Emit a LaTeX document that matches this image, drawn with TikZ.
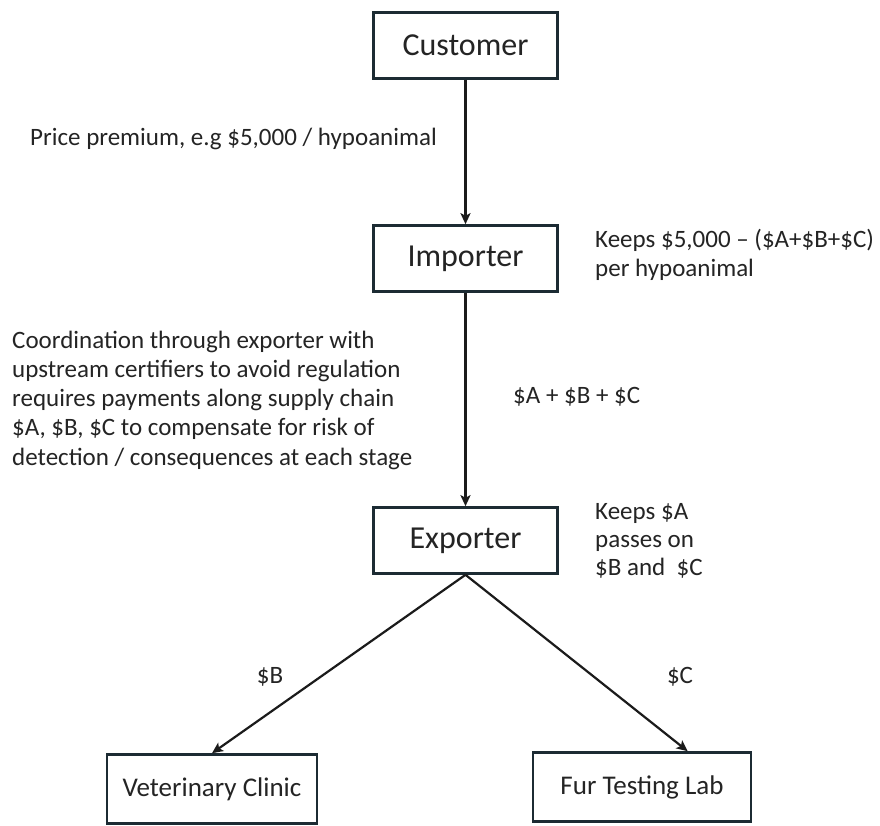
\documentclass[tikz,border=0pt]{standalone}
\usepackage{fontspec}
\setmainfont{Carlito}
\usetikzlibrary{arrows.meta,calc}

\definecolor{inkline}{HTML}{1B1B1B}
\definecolor{inktext}{HTML}{242424}
\definecolor{boxedge}{HTML}{1C2B33}

\tikzset{
  stagebox/.style={draw=boxedge, line width=2.6pt, fill=white, text=inktext,
    minimum width=184pt, minimum height=66pt, inner sep=0pt,
    font=\fontsize{32}{37}\selectfont},
  endbox/.style={stagebox, minimum height=69pt, font=\fontsize{27}{32}\selectfont},
  flow/.style={draw=inkline, line width=2.2pt,
    -{Stealth[length=11pt,width=10pt,inset=2.5pt]}},
  note/.style={text=inktext, inner sep=0pt, font=\fontsize{25}{29.5}\selectfont},
  notepara/.style={note, align=left, anchor=north west}
}

\begin{document}
\begin{tikzpicture}[x=1pt,y=-1pt]
  \useasboundingbox (0,0) rectangle (880,826);
  \fill[white] (0,0) rectangle (880,826);

  % supply chain stages
  \node[stagebox] (customer) at (465.5,45.5) {Customer};
  \node[stagebox] (importer) at (465.5,258.5) {Importer};
  \node[stagebox] (exporter) at (465.5,540.5) {Exporter};
  \node[endbox, minimum width=210pt] (vet) at (212,789) {Veterinary Clinic};
  \node[endbox, minimum width=218pt] (fur) at (642,787) {Fur Testing Lab};

  % payment flows
  \coordinate (furin) at ($(fur.north west)!0.707!(fur.north east)$);
  \draw[flow] (customer.south) -- (importer.north);
  \draw[flow] (importer.south) -- (exporter.north);
  \draw[flow] (exporter.south) -- (vet.north);
  \draw[flow] (exporter.south) -- (furin);

  % annotations
  \node[note, anchor=base west] (premium) at (30,146)
    {Price premium, e.g \$5,000 / hypoanimal};
  \node[notepara] (impkeeps) at (595,229)
    {Keeps \$5,000 – (\$A+\$B+\$C)\\per hypoanimal};
  \node[notepara, font=\fontsize{25}{29.3}\selectfont] (coord) at (12,330.5)
    {Coordination through exporter with\\
     upstream certifiers to avoid regulation\\
     requires payments along supply chain\\
     \$A, \$B, \$C to compensate for risk of\\
     detection / consequences at each stage};
  \node[note, anchor=base west] (abc) at (513,403) {\$A + \$B + \$C};
  \node[notepara, font=\fontsize{25}{28}\selectfont] (expkeeps) at (595,503.5)
    {Keeps \$A\\passes on\\\$B and \ \$C};
  \node[note, anchor=base] (payb) at (270,683) {\$B};
  \node[note, anchor=base] (payc) at (680,683) {\$C};
\end{tikzpicture}
\end{document}
